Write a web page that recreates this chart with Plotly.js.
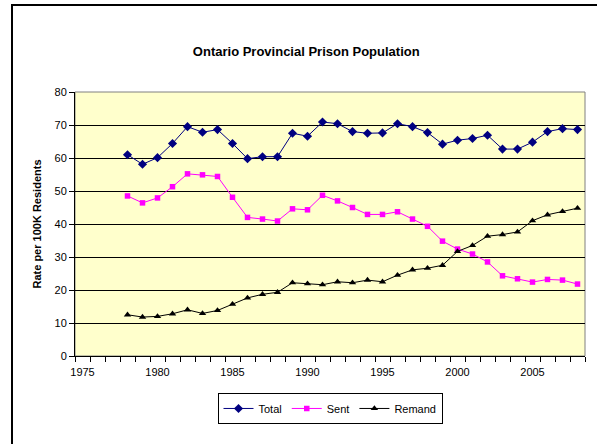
<!DOCTYPE html>
<html>
<head>
<meta charset="utf-8">
<script src="https://cdn.plot.ly/plotly-3.0.1.min.js"></script>
<style>
  html, body { margin: 0; padding: 0; background: #fff; }
  #chart { width: 597px; height: 444px; position: relative; }
  #frame { position: absolute; left: 11px; top: 4px; width: 700px; height: 600px;
           border-left: 2px solid #000; border-top: 2px solid #000; pointer-events: none; }
  #wrap { position: relative; width: 597px; height: 444px; overflow: hidden; }
</style>
</head>
<body>
<div id="wrap">
  <div id="chart"></div>
  <div id="frame"></div>
</div>
<script>
const years = [1978,1979,1980,1981,1982,1983,1984,1985,1986,1987,1988,1989,1990,
  1991,1992,1993,1994,1995,1996,1997,1998,1999,2000,2001,2002,2003,2004,2005,2006,2007,2008];
const total = [61.0,58.1,60.1,64.4,69.5,67.8,68.6,64.4,59.8,60.4,60.4,67.5,66.6,
  70.9,70.4,68.0,67.5,67.6,70.4,69.5,67.7,64.2,65.4,65.9,66.9,62.7,62.7,64.8,68.0,68.9,68.6];
const sent = [48.5,46.4,47.9,51.3,55.2,54.9,54.4,48.1,42.0,41.5,40.9,44.6,44.3,
  48.7,47.0,45.0,42.9,42.9,43.7,41.5,39.3,34.8,32.4,30.9,28.5,24.3,23.4,22.4,23.2,23.0,21.8];
const remand = [12.5,11.8,12.0,12.8,14.0,12.9,13.8,15.7,17.6,18.7,19.3,22.2,21.9,
  21.6,22.5,22.2,23.0,22.5,24.5,26.1,26.6,27.5,31.7,33.5,36.3,36.8,37.6,41.0,42.8,43.8,44.8];
const tickYears = [1975,1980,1985,1990,1995,2000,2005];
const tickLabels = ["1975","1980","1985","1990","1995","2000","2005"];

const traces = [
  { x: years, y: total, name: "Total", type: "scatter", mode: "lines+markers",
    line: { color: "#000080", width: 1 },
    marker: { symbol: "diamond", size: 7, color: "#000080" } },
  { x: years, y: sent, name: "Sent", type: "scatter", mode: "lines+markers",
    line: { color: "#FF00FF", width: 1 },
    marker: { symbol: "square", size: 5.5, color: "#FF00FF" } },
  { x: years, y: remand, name: "Remand", type: "scatter", mode: "lines+markers",
    line: { color: "#000000", width: 1 },
    marker: { symbol: "triangle-up", size: 6.5, color: "#000000" } }
];

const layout = {
  width: 597, height: 444,
  margin: { l: 75, r: 12, t: 92, b: 88 },
  paper_bgcolor: "#ffffff",
  plot_bgcolor: "#FFFFCC",
  font: { family: "Liberation Sans, Arial, sans-serif", size: 11, color: "#000" },
  showlegend: true,
  title: { text: "<b>Ontario Provincial Prison Population</b>",
    font: { family: "Liberation Sans, Arial, sans-serif", size: 13, color: "#000" },
    x: 0.513, xref: "container", xanchor: "center",
    y: 0.885, yref: "container", yanchor: "middle" },
  xaxis: {
    range: [1974.5, 2008.5],
    tickmode: "array", tickvals: tickYears, ticktext: tickLabels,
    ticks: "", showgrid: false, zeroline: false,
    showline: true, linecolor: "#000", linewidth: 1,
    ticklabelstandoff: 6,
    minor: { ticks: "outside", tick0: 1974.5, dtick: 1, ticklen: 5, tickcolor: "#000", showgrid: false },
    tickfont: { size: 11, color: "#000" }
  },
  yaxis: {
    range: [0, 80], dtick: 10, tick0: 0,
    ticks: "outside", ticklen: 5, tickcolor: "#000",
    showgrid: true, gridcolor: "#000", gridwidth: 1,
    zeroline: false, showline: true, linecolor: "#000", linewidth: 1,
    tickfont: { size: 11, color: "#000" },
    title: { text: "<b>Rate per 100K Residents</b>", font: { size: 11, color: "#000" }, standoff: 10 }
  },
  legend: {
    orientation: "h", x: 0.5, xanchor: "center", y: -0.14, yanchor: "top",
    bordercolor: "#000", borderwidth: 1, bgcolor: "#fff",
    font: { size: 11, color: "#000" }
  },
  shapes: [
    { type: "rect", xref: "paper", yref: "paper", x0: 0, x1: 1, y0: 0, y1: 1,
      line: { color: "#808080", width: 1 }, layer: "below" }
  ]
};

Plotly.newPlot("chart", traces, layout, { displayModeBar: false, staticPlot: true });
</script>
</body>
</html>
